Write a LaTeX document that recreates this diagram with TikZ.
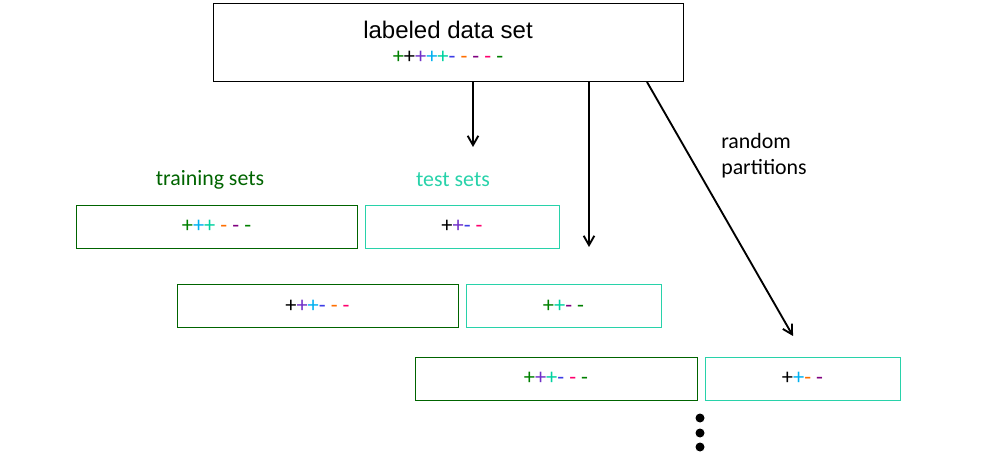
\documentclass[tikz,border=0pt]{standalone}
\usepackage{fontspec}
\setmainfont{Liberation Sans}
\newfontfamily\calfont{Carlito}
\usetikzlibrary{arrows.meta}
\definecolor{cG}{RGB}{0,128,0}
\definecolor{cK}{RGB}{0,0,0}
\definecolor{cV}{RGB}{112,48,200}
\definecolor{cS}{RGB}{0,176,240}
\definecolor{cT}{RGB}{0,210,160}
\definecolor{cB}{RGB}{60,60,230}
\definecolor{cO}{RGB}{255,110,0}
\definecolor{cP}{RGB}{128,0,128}
\definecolor{cR}{RGB}{255,0,110}
\definecolor{trainc}{RGB}{0,100,0}
\definecolor{testc}{RGB}{40,210,170}
\newcommand{\pG}{\textcolor{cG}{+}}
\newcommand{\pK}{\textcolor{cK}{+}}
\newcommand{\pV}{\textcolor{cV}{+}}
\newcommand{\pS}{\textcolor{cS}{+}}
\newcommand{\pT}{\textcolor{cT}{+}}
\newcommand{\mB}{\textcolor{cB}{-}}
\newcommand{\mO}{\textcolor{cO}{-}}
\newcommand{\mP}{\textcolor{cP}{-}}
\newcommand{\mR}{\textcolor{cR}{-}}
\newcommand{\mG}{\textcolor{cG}{-}}
\begin{document}
\begin{tikzpicture}[x=0.75pt,y=-0.75pt,
  sym/.style={font=\calfont\fontsize{16.8}{18}\selectfont},
  trainbox/.style={draw=trainc,line width=0.6pt,minimum height=43*0.75pt,inner sep=0pt,sym},
  testbox/.style={draw=testc,line width=0.6pt,minimum height=43*0.75pt,inner sep=0pt,sym},
  lab/.style={font=\calfont\fontsize{16.4}{19.5}\selectfont},
  arr/.style={-{Straight Barb[length=7pt,width=8pt]},line width=1.4pt}]
\useasboundingbox (0,0) rectangle (1007,463);
\node[draw,line width=0.6pt,minimum width=470*0.75pt,minimum height=78*0.75pt,inner sep=0pt] (top) at (448,42) {};
\node[font=\fontsize{18}{20}\selectfont] (title) at (448,30) {labeled data set};
\node[sym] (tsym) at (448,57) {\pG\pK\pV\pS\pT\mB{} \mO{} \mP{} \mR{} \mG};
\node[lab,text=trainc] (trl) at (210,180) {training sets};
\node[lab,text=testc] (tel) at (453,180) {test sets};
\node[lab,align=left,anchor=west,inner sep=0pt] (rp) at (721,156) {random\\partitions};
\node[trainbox,minimum width=281*0.75pt] (tr1) at (216.5,226.5) {\pG\pS\pT{} \mO{} \mP{} \mG};
\node[testbox,minimum width=194*0.75pt] (te1) at (462,226.5) {\pK\pV\mB{} \mR};
\node[trainbox,minimum width=281*0.75pt] (tr2) at (317.5,306) {\pK\pV\pS\mB{} \mO{} \mR};
\node[testbox,minimum width=195*0.75pt] (te2) at (563.5,306) {\pG\pT\mP{} \mG};
\node[trainbox,minimum width=282*0.75pt] (tr3) at (556,378.5) {\pG\pV\pT\mB{} \mR{} \mG};
\node[testbox,minimum width=195*0.75pt] (te3) at (802.5,378.5) {\pK\pS\mO{} \mP};
\coordinate (a1s) at (473,82); \coordinate (a1e) at (473,147);
\coordinate (a2s) at (589,82); \coordinate (a2e) at (589,247);
\coordinate (a3s) at (647,82); \coordinate (a3e) at (793,336);
\draw[arr] (a1s) -- (a1e);
\draw[arr] (a2s) -- (a2e);
\draw[arr] (a3s) -- (a3e);
\foreach \y/\n in {418/d1,433/d2,447/d3} \fill (700,\y) circle (4.5*0.75pt);
\end{tikzpicture}
\end{document}
